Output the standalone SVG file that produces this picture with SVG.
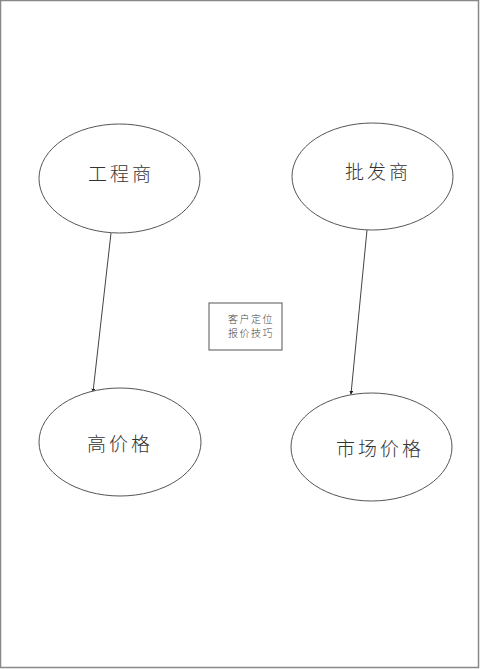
<svg xmlns="http://www.w3.org/2000/svg" width="480" height="669" viewBox="0 0 480 669">
<style>
.ell{fill:#fff;stroke:#555;stroke-width:1}
.lbl{font-family:"Noto Sans CJK SC","Noto Sans CJK JP",serif;font-size:19px;font-weight:300;fill:#333;text-anchor:middle;dominant-baseline:central;letter-spacing:3px}
.sm{font-family:"Noto Sans CJK SC","Noto Sans CJK JP",serif;font-size:10px;font-weight:300;fill:#444;text-anchor:middle;dominant-baseline:central;letter-spacing:1.5px}
.con{stroke:#444;stroke-width:1;fill:none;marker-end:url(#ah)}
</style>
<defs>
<marker id="ah" viewBox="0 0 6 6" refX="5" refY="3" markerWidth="4" markerHeight="4" orient="auto" markerUnits="userSpaceOnUse">
<path d="M0,0 L6,3 L0,6 z" fill="#222"/>
</marker>
</defs>
<rect x="0" y="0" width="480" height="669" fill="#fff"/>
<rect x="0.5" y="0.5" width="478" height="667" fill="none" stroke="#888" stroke-width="1.5"/>
<g id="connectors">
<line class="con" x1="111" y1="233" x2="93" y2="392"/>
<line class="con" x1="367" y1="230" x2="351" y2="394"/>
</g>
<g id="n1">
<ellipse class="ell" cx="119.5" cy="178.5" rx="80.5" ry="54.5"/>
<text class="lbl" x="121" y="172">工程商</text>
</g>
<g id="n2">
<ellipse class="ell" cx="372.5" cy="176.5" rx="80.5" ry="53.5"/>
<text class="lbl" x="378" y="170">批发商</text>
</g>
<g id="n3">
<rect x="209" y="303" width="73" height="47" fill="#fff" stroke="#555" stroke-width="1"/>
<text class="sm" x="251" y="318.5">客户定位</text>
<text class="sm" x="251" y="332">报价技巧</text>
</g>
<g id="n4">
<ellipse class="ell" cx="120" cy="442" rx="81" ry="54"/>
<text class="lbl" x="120" y="442">高价格</text>
</g>
<g id="n5">
<ellipse class="ell" cx="371.5" cy="447" rx="80.5" ry="54"/>
<text class="lbl" x="380" y="447">市场价格</text>
</g>
</svg>
